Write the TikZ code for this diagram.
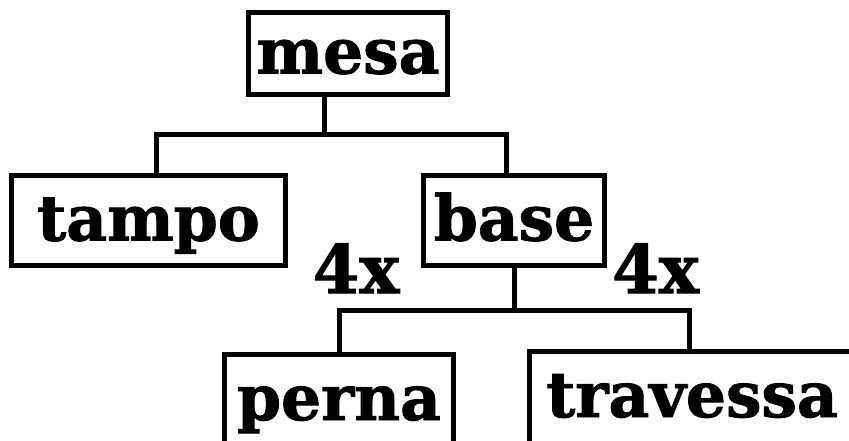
\documentclass[tikz,border=0pt]{standalone}
\usepackage{fontspec}
\setmainfont{DejaVu Serif}[BoldFeatures={FakeBold=1.5}]
\begin{document}
\begin{tikzpicture}[x=1pt,y=-1pt,
  txt/.style={font=\fontsize{63}{63}\selectfont\bfseries},
  box/.style={txt, draw, line width=5.5pt, inner sep=0pt, text height=40pt, text depth=0pt, align=center},
  lowbox/.style={box, text height=21pt},
  conn/.style={line width=5pt},
  lbl/.style={font=\fontsize{67}{67}\selectfont\bfseries, inner sep=0pt, anchor=base}]
\useasboundingbox (0,0) rectangle (849,441);
\fill[white] (0,0) rectangle (849,441);
% boxes
\node[box, minimum width=199pt, minimum height=82pt] (mesa) at (348,53.5) {mesa};
\node[box, minimum width=274pt, minimum height=90pt] (tampo) at (148.5,220.5) {tampo};
\node[box, minimum width=181pt, minimum height=90pt] (base) at (514,220.5) {base};
\node[lowbox, minimum width=229pt, minimum height=110pt] (perna) at (339,409.5) {perna};
\node[lowbox, minimum width=325pt, minimum height=110pt] (travessa) at (692,406.5) {travessa};
% labels
\node[lbl] (q1) at (356,293) {4x};
\node[lbl] (q2) at (655.5,293) {4x};
% connectors mesa
\coordinate (m1) at (324,135);
\coordinate (m2) at (156,135);
\coordinate (m3) at (506,135);
\draw[conn] (m1 |- mesa.south) -- (m1);
\draw[conn] (m2 |- tampo.north) -- (m2) -- (m3) -- (m3 |- base.north);
% connectors base
\coordinate (b1) at (514,310);
\coordinate (b2) at (339,310);
\coordinate (b3) at (689,310);
\draw[conn] (base.south) -- (b1);
\draw[conn] (b2 |- perna.north) -- (b2) -- (b3) -- (b3 |- travessa.north);
\end{tikzpicture}
\end{document}
